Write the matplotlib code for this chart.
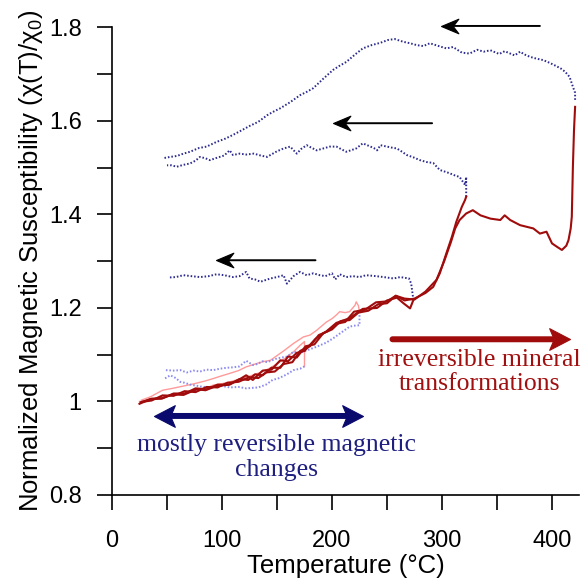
import matplotlib
matplotlib.use("Agg")
import matplotlib.pyplot as plt
from matplotlib.path import Path
import numpy as np

plt.rcParams['font.family'] = ['Liberation Sans', 'DejaVu Sans']
plt.rcParams['mathtext.fontset'] = 'custom'
plt.rcParams['mathtext.rm'] = 'Liberation Sans'
plt.rcParams['mathtext.it'] = 'Liberation Sans:italic'

# ---------------- data ----------------
# heating 1 (pink, to ~175 C)
heat1_T = [25, 35, 46, 55, 65, 77, 85, 92, 100, 107, 115, 122, 130, 137, 144, 153, 160, 165, 171, 175, 175]
heat1_X = [1.000, 1.004, 1.010, 1.014, 1.018, 1.024, 1.028, 1.035, 1.038, 1.042, 1.047, 1.052, 1.058, 1.064, 1.072, 1.085, 1.097, 1.106, 1.120, 1.128, 1.075]
# cooling 1 (light blue dotted)
cool1_T = [175, 171, 165, 159, 152, 146, 140, 133, 122, 115, 107, 98, 90, 83, 76, 71, 66, 62, 58, 53, 48]
cool1_X = [1.075, 1.070, 1.067, 1.058, 1.050, 1.046, 1.036, 1.030, 1.028, 1.031, 1.030, 1.034, 1.030, 1.031, 1.034, 1.036, 1.040, 1.042, 1.050, 1.056, 1.049]
# heating 2 (pink, to ~225 C)
heat2_T = [27, 35, 46, 55, 65, 75, 85, 92, 100, 107, 115, 122, 130, 137, 144, 150, 156, 165, 174, 180, 186, 195, 200, 204, 207, 212, 216, 221, 222, 224, 225]
heat2_X = [1.003, 1.010, 1.024, 1.028, 1.033, 1.038, 1.044, 1.049, 1.055, 1.060, 1.066, 1.074, 1.080, 1.085, 1.088, 1.098, 1.108, 1.124, 1.138, 1.142, 1.152, 1.170, 1.177, 1.185, 1.192, 1.190, 1.192, 1.206, 1.213, 1.205, 1.192]
# cooling 2 (light blue dotted)
cool2_T = [225, 225, 220, 216, 210, 201, 195, 186, 178, 171, 165, 159, 150, 141, 137, 132, 128, 122, 116, 110, 104, 98, 92, 86, 80, 74, 68, 62, 56, 48]
cool2_X = [1.192, 1.163, 1.162, 1.160, 1.150, 1.135, 1.126, 1.117, 1.110, 1.104, 1.106, 1.096, 1.092, 1.084, 1.086, 1.080, 1.078, 1.087, 1.075, 1.073, 1.072, 1.070, 1.067, 1.068, 1.064, 1.066, 1.062, 1.067, 1.066, 1.067]
# heating 3 (dark red, to ~275 C)
heat3_T = [25, 35, 45, 55, 65, 77, 85, 95, 107, 115, 122, 128, 137, 145, 153, 160, 168, 175, 185, 195, 204, 216, 228, 241, 250, 259, 265, 271, 274]
heat3_X = [0.995, 1.005, 1.006, 1.015, 1.014, 1.026, 1.024, 1.033, 1.036, 1.046, 1.056, 1.046, 1.066, 1.068, 1.088, 1.086, 1.104, 1.108, 1.134, 1.150, 1.168, 1.178, 1.198, 1.200, 1.216, 1.222, 1.210, 1.199, 1.217]
# cooling 3 (navy dotted)
cool3_T = [274, 272, 270, 262, 256, 247, 240, 231, 225, 219, 213, 207, 203, 200, 194, 189, 183, 177, 171, 165, 159, 156, 150, 144, 135, 130, 125, 122, 116, 110, 102, 95, 88, 80, 72, 65, 58, 51]
cool3_X = [1.217, 1.252, 1.263, 1.266, 1.263, 1.266, 1.268, 1.270, 1.266, 1.268, 1.266, 1.272, 1.261, 1.274, 1.268, 1.270, 1.274, 1.270, 1.277, 1.268, 1.252, 1.270, 1.266, 1.263, 1.256, 1.261, 1.263, 1.277, 1.268, 1.266, 1.270, 1.272, 1.268, 1.266, 1.268, 1.270, 1.266, 1.265]
# heating 4 (dark red, to ~322 C)
heat4_T = [27, 36, 46, 56, 66, 76, 86, 96, 105, 115, 125, 133, 140, 148, 156, 164, 171, 180, 188, 196, 204, 212, 220, 230, 240, 250, 258, 266, 275, 285, 292, 298, 304, 309, 313, 318, 321, 322]
heat4_X = [0.999, 1.002, 1.013, 1.012, 1.022, 1.020, 1.031, 1.030, 1.040, 1.042, 1.052, 1.050, 1.062, 1.064, 1.080, 1.084, 1.108, 1.118, 1.142, 1.150, 1.166, 1.170, 1.192, 1.196, 1.212, 1.214, 1.226, 1.216, 1.220, 1.232, 1.245, 1.274, 1.317, 1.352, 1.384, 1.416, 1.431, 1.438]
# cooling 4 (navy dotted)
cool4_T = [322, 322, 321, 316, 311, 307, 302, 298, 292, 286, 280, 274, 268, 263, 259, 254, 250, 244, 241, 238, 235, 231, 228, 222, 217, 213, 208, 204, 198, 192, 186, 181, 177, 172, 168, 162, 156, 150, 141, 135, 129, 122, 116, 110, 107, 102, 98, 94, 89, 85, 80, 76, 71, 65, 59, 54, 50]
cool4_X = [1.438, 1.480, 1.463, 1.480, 1.484, 1.488, 1.492, 1.495, 1.510, 1.512, 1.516, 1.522, 1.527, 1.535, 1.541, 1.543, 1.545, 1.548, 1.537, 1.542, 1.545, 1.549, 1.552, 1.541, 1.537, 1.534, 1.540, 1.545, 1.545, 1.541, 1.537, 1.543, 1.548, 1.540, 1.530, 1.545, 1.541, 1.535, 1.523, 1.526, 1.530, 1.528, 1.530, 1.527, 1.537, 1.526, 1.523, 1.520, 1.516, 1.520, 1.523, 1.515, 1.509, 1.506, 1.502, 1.505, 1.505]
# heating 5 (dark red, to ~421 C)
heat5_T = [26, 36, 46, 56, 66, 76, 86, 96, 106, 116, 124, 130, 137, 145, 153, 160, 168, 176, 184, 192, 200, 208, 216, 224, 233, 242, 250, 258, 266, 275, 285, 295, 302, 308, 312, 316, 322, 328, 335, 344, 353, 357, 362, 371, 383, 389, 395, 400, 405, 409, 413, 415, 417, 418, 419, 420, 421]
heat5_X = [0.998, 1.006, 1.007, 1.017, 1.017, 1.028, 1.026, 1.036, 1.036, 1.048, 1.046, 1.058, 1.056, 1.072, 1.072, 1.096, 1.094, 1.118, 1.122, 1.146, 1.154, 1.172, 1.174, 1.190, 1.194, 1.208, 1.210, 1.226, 1.220, 1.218, 1.235, 1.260, 1.300, 1.340, 1.370, 1.388, 1.402, 1.409, 1.398, 1.391, 1.388, 1.398, 1.388, 1.377, 1.370, 1.359, 1.363, 1.338, 1.330, 1.324, 1.333, 1.345, 1.370, 1.395, 1.502, 1.580, 1.630]
# cooling 5 (navy dotted)
cool5_T = [421, 421, 419, 416, 412, 408, 404, 398, 392, 386, 380, 375, 371, 366, 362, 357, 352, 344, 338, 332, 325, 318, 310, 304, 297, 289, 283, 277, 271, 265, 257, 251, 244, 236, 228, 221, 213, 207, 201, 192, 183, 177, 171, 162, 153, 147, 141, 133, 125, 118, 110, 103, 95, 86, 79, 71, 65, 59, 53, 46]
cool5_X = [1.645, 1.660, 1.673, 1.694, 1.705, 1.712, 1.717, 1.724, 1.730, 1.733, 1.737, 1.742, 1.748, 1.740, 1.744, 1.749, 1.743, 1.751, 1.748, 1.752, 1.744, 1.746, 1.758, 1.755, 1.760, 1.766, 1.760, 1.762, 1.766, 1.769, 1.775, 1.773, 1.767, 1.762, 1.755, 1.742, 1.726, 1.718, 1.709, 1.690, 1.670, 1.662, 1.655, 1.640, 1.627, 1.620, 1.612, 1.598, 1.589, 1.580, 1.570, 1.562, 1.555, 1.545, 1.542, 1.534, 1.530, 1.525, 1.523, 1.520]

# annotation arrows (temperature, susceptibility): (tail, tip)
cool_arrows = [((389, 1.803), (299, 1.803)), ((291, 1.595), (201, 1.595)), ((185, 1.302), (95, 1.302))]
rev_arrow = ((38, 0.969), (228, 0.969))
irr_arrow = ((255, 1.133), (416, 1.133))
rev_text = "mostly reversible magnetic\nchanges"
irr_text = "irreversible mineral\ntransformations"

x_ticks = [0, 100, 200, 300, 400]
y_ticks = [0.8, 1.0, 1.2, 1.4, 1.6, 1.8]
y_tick_labels = ["0.8", "1", "1.2", "1.4", "1.6", "1.8"]

# ---------------- styles ----------------
DARK_RED = '#a00c0c'
PINK = '#ff9a9a'
NAVY = '#2b2b8f'
LIGHT_BLUE = '#8a8af0'


def stealth_head(pointing_left, half_width, notch):
    s = 1.0 if pointing_left else -1.0
    verts = [(0, 0), (s * 1.0, half_width), (s * notch, 0), (s * 1.0, -half_width), (0, 0)]
    codes = [Path.MOVETO, Path.LINETO, Path.LINETO, Path.LINETO, Path.CLOSEPOLY]
    return Path(verts, codes)


def draw_arrow(ax, tail, tip, color, lw, head_len_pt, half_width, notch, both=False):
    shrink = head_len_pt * 0.6
    ax.annotate("", xy=tip, xytext=tail, annotation_clip=False,
                arrowprops=dict(arrowstyle='-', lw=lw, color=color,
                                shrinkA=shrink if both else 0, shrinkB=shrink))
    left = tip[0] < tail[0]
    ax.plot([tip[0]], [tip[1]], marker=stealth_head(left, half_width, notch),
            markersize=2 * head_len_pt, color=color, mec=color, mew=0.8,
            ls='none', clip_on=False, zorder=5)
    if both:
        ax.plot([tail[0]], [tail[1]], marker=stealth_head(not left, half_width, notch),
                markersize=2 * head_len_pt, color=color, mec=color, mew=0.8,
                ls='none', clip_on=False, zorder=5)


fig = plt.figure(figsize=(5.82, 5.82), dpi=100)
ax = fig.add_axes([0.1924, 0.1495, 0.8033, 0.8035])

dot = (0, (0.8, 1.0))
ax.plot(heat1_T, heat1_X, color=PINK, lw=1.0, zorder=2)
ax.plot(heat2_T, heat2_X, color=PINK, lw=1.0, zorder=2)
ax.plot(cool1_T, cool1_X, color=LIGHT_BLUE, lw=1.4, ls=dot, zorder=2)
ax.plot(cool2_T, cool2_X, color=LIGHT_BLUE, lw=1.4, ls=dot, zorder=2)
ax.plot(cool3_T, cool3_X, color=NAVY, lw=1.4, ls=dot, zorder=2)
ax.plot(cool4_T, cool4_X, color=NAVY, lw=1.4, ls=dot, zorder=2)
ax.plot(cool5_T, cool5_X, color=NAVY, lw=1.4, ls=dot, zorder=2)
ax.plot(heat3_T, heat3_X, color=DARK_RED, lw=1.5, zorder=3)
ax.plot(heat4_T, heat4_X, color=DARK_RED, lw=1.5, zorder=3)
ax.plot(heat5_T, heat5_X, color=DARK_RED, lw=1.5, zorder=3)

for (tail, tip) in cool_arrows:
    draw_arrow(ax, tail, tip, 'black', 1.4, 12.5, 0.42, 0.68)
draw_arrow(ax, rev_arrow[0], rev_arrow[1], '#0a0a6e', 4.3, 15.0, 0.52, 0.78, both=True)
draw_arrow(ax, irr_arrow[0], irr_arrow[1], '#a00c0c', 4.3, 15.0, 0.52, 0.78)

ax.text(150, 0.880, rev_text, ha='center', va='center', fontsize=18.5,
        family='Liberation Serif', color='#1f1f80', linespacing=1.2)
ax.text(334, 1.063, irr_text, ha='center', va='center', fontsize=18.5,
        family='Liberation Serif', color='#a01010', linespacing=1.15)

ax.set_xlim(0, 425)
ax.set_ylim(0.8, 1.8)
ax.set_xticks(x_ticks)
ax.set_xticks([50, 150, 250, 350], minor=True)
ax.set_yticks(y_ticks)
ax.set_yticklabels(y_tick_labels)
ax.set_yticks([0.9, 1.1, 1.3, 1.5, 1.7], minor=True)
ax.tick_params(which='both', direction='out', length=10.8, width=1.2, labelsize=17)
ax.tick_params(axis='x', which='major', pad=14.5)
ax.tick_params(axis='y', which='major', pad=11)
for s in ['top', 'right']:
    ax.spines[s].set_visible(False)
for s in ['left', 'bottom']:
    ax.spines[s].set_linewidth(1.2)

ax.set_xlabel("Temperature (°C)", fontsize=18.5, labelpad=1)
ax.set_ylabel("Normalized Magnetic Susceptibility (χ(T)/χ$_0$)", fontsize=18.5, labelpad=3)

fig.savefig("out.png", dpi=100)
